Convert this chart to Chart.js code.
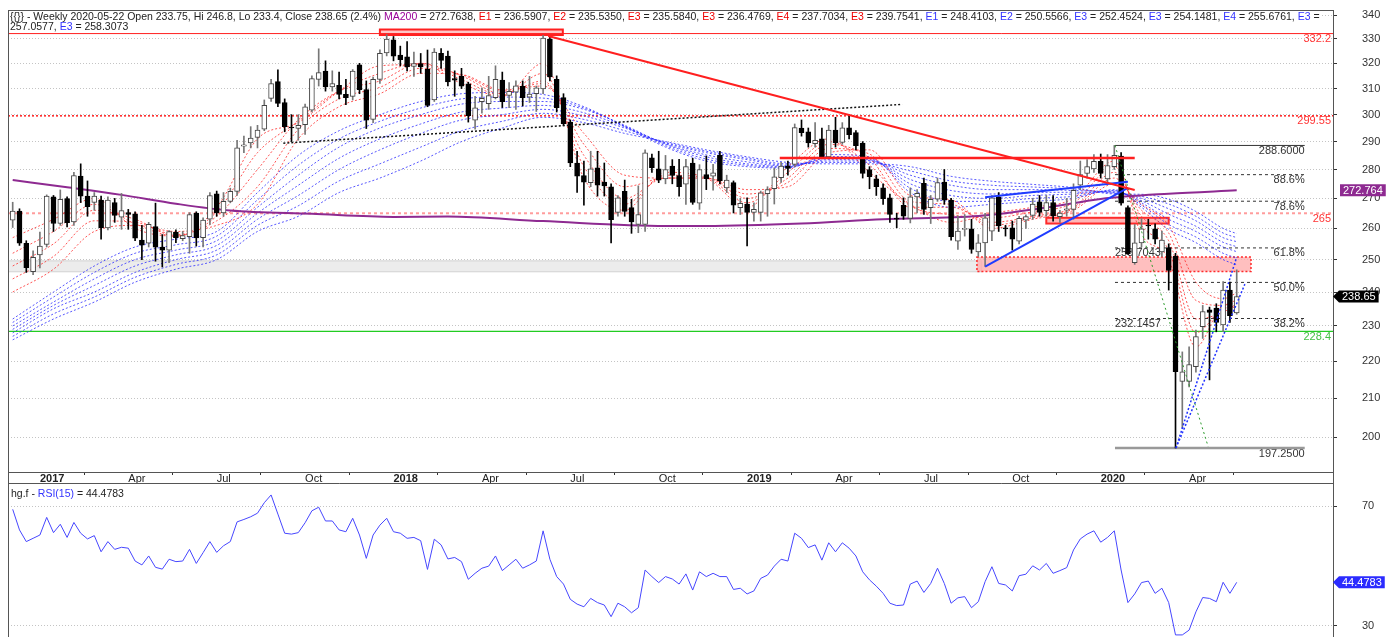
<!DOCTYPE html>
<html>
<head>
<meta charset="utf-8">
<title>Weekly chart</title>
<script src="https://cdn.jsdelivr.net/npm/chart.js@4.4.1/dist/chart.umd.min.js"></script>
<style>
  html, body { margin: 0; padding: 0; background: #fff; }
  #wrap { position: relative; width: 1386px; height: 637px; overflow: hidden; }
  canvas { position: absolute; left: 0; }
  #mainChart { top: 0; }
  #rsiChart { top: 483px; }
</style>
</head>
<body>
<div id="wrap">
  <canvas id="mainChart" width="1386" height="483"></canvas>
  <canvas id="rsiChart" width="1386" height="154"></canvas>
</div>
<script>
// weekly candles, index 0 = 2016-12-09 ... index 180 = 2020-05-22
const opens = [262.7,265.7,255.2,246.2,251.5,254.8,270.5,261.6,269.9,262.1,
  277.7,270.8,268.6,269.4,260.2,268.6,263.7,265.2,264.8,256.2,
  255.2,260.6,254,253,258.8,256.7,257.3,265.1,257,263,
  271.6,265.1,269,272.4,288.3,289.5,291.5,294.6,306.2,312.7,
  304.6,295.3,294.8,296.2,301.7,313.6,316.9,310.6,311.3,307.8,
  307,319.4,309.6,298.2,313.6,324.2,329.6,323.3,322.6,318.8,
  319.9,317.6,305.6,324,322.9,313.9,314.8,311.9,297.9,304.9,
  304.2,306.5,313.3,307.3,308.6,310.9,306.7,308,309.9,329.9,
  313.6,306.5,297.2,282.3,277.9,275.4,280.6,275.6,274,265.3,
  272.4,266.9,261.3,261.3,284.1,280.2,276.7,281.2,277.9,274.9,
  282.3,268.4,278.2,277.7,285,273.6,275.4,266.9,268.1,265.3,
  265.3,271.6,273.3,277.1,281.2,281.8,295,293.6,289.2,291,
  284.5,294.2,289.7,295.1,293.3,289.5,280,276.7,273.6,270.2,
  263.3,267.7,263.3,270.5,275.2,266.9,269.7,275.6,269.4,255.9,
  259.7,259.9,252.4,255.3,259.1,270.5,260.2,260.2,255.9,262.7,
  264.3,268.8,265.9,268.6,263.9,266,266.3,274.5,278.6,280.2,
  282.9,276.7,281,284.8,266.9,249,255.3,261,259.9,252.4,
  253.8,251,214.5,214.5,218.5,229.8,234.7,235.2,230.3,240.6,
  233.75];
const highs = [268.7,266.5,256,252.8,258.8,271.2,271,272.9,270.5,279,
  282,276,272,270.8,270.5,270,271.7,266.3,265.5,261,
  262,268.4,258,259.3,259.5,259,265.2,265.5,263.5,272,
  272.5,272,273.5,290.5,292,295.5,296,305.6,313.6,317.4,
  306,300,300,304,315,325.9,321,317,316.5,313.6,
  317.5,320,313,314.5,325.5,331.8,331,327,328.9,324.6,
  324,325.4,326,326,325,317,318,312.5,307,310.3,
  314.8,319,316.5,312.3,313,313,314.8,311,331.5,331,
  315,308,298,286.5,283,286.5,286.5,282.3,275,271,
  276.3,269.7,274.3,287,285.5,286.5,285,283.5,283.6,283.6,
  284,281.7,284.8,281.8,286.5,278,276,270,270.2,268.5,
  272.5,274,280.5,282.5,283,296.5,298,295,297,295,
  296,299,297,300,294,290,281,278,275,271.5,
  265,270.2,273.6,273,277,271,277,280,270,264.1,
  264.6,263,258,265,271,272,261,262.4,264,264.5,
  270,271,271,271,266,270,275,283,283.5,285.3,
  285.5,285.3,288.6,286,267.5,261.3,263.2,263,261.5,259.1,
  255,252,222.6,224,228.8,236,235.5,236.5,243.2,243,
  246.8];
const lows = [260.3,254.5,246,245.3,247.4,254,259,261,260.5,261,
  268.6,264,266,256.5,259.5,262,259.7,259.7,256,250,
  254,249.5,247.7,249,255.4,256,252,254.3,254,261.3,
  264,264,268.5,271,286,287.7,287.7,294,305,303,
  293.6,290,290.5,292.6,301,311,309,309,306,303.8,
  305.6,308,294.8,297,312,323,321,319,317,314.8,
  316,303,305,318,311,307,310,297.2,294.6,300.6,
  302,306,302.7,302.6,302,303.3,304.6,301.2,308,313,
  301,296,281,272,267.7,274,270.8,270.8,255.3,264,
  264,258.4,258.6,259,279,275.4,275,275,270.8,268,
  268,266.3,273,272.8,275,272,265.1,264.6,254.3,262.4,
  262.4,264,268.1,275.5,278,281,292,288,288,284,
  284,288,289,291,287,277,273.3,271,268,262,
  260.2,263,261.8,265.1,264.6,261.6,269,268,256.2,253.2,
  257.5,252,251,247.9,256,259,257.5,253,255,260,
  263,264,264,262.4,262,264,263,273,277,279,
  277,275,280,267.7,251.6,248.5,254,256.5,255,251,
  240.6,197.25,202.2,213,217,226.4,214.9,228.3,228.3,231,
  233.4];
const closes = [265.7,255.2,247.5,250.7,254.3,270.8,261.6,269.7,261.9,277.9,
  270.8,267.2,270.8,260.2,269.4,264.3,265.9,264.6,256.8,254.6,
  261.3,253.9,253,259,257,257.7,264.6,256.9,262.7,271,
  265.1,269,272.4,287.7,288.8,291.3,294.2,303.5,312,304.3,
  295.5,295,296,303,313.9,316.3,310.6,312,307.7,306.5,
  316.9,309.6,297.9,313.6,324,329.9,322.9,321.5,318.6,319.9,
  318.6,303.5,324.6,321.2,312.6,313.3,310.9,299.6,302.6,306.2,
  307.3,313.6,304.9,308.9,311.1,306.5,307.9,310.3,330.3,314.6,
  302.6,296.6,282.3,277.7,275.6,280.2,274.5,274.3,262.9,270.2,
  265.6,262.1,264.6,285.9,280.6,276.3,280,277.9,274,281,
  268.6,280,276.8,278.8,276.1,276.3,267.7,268.3,265.3,266.3,
  271.9,273,277.4,281.2,280.4,295.2,293.3,289.5,290.5,284.5,
  294.2,289.5,295.1,292.5,288.5,278.6,277.5,274,269.9,264.6,
  263,264,270.5,271.7,266.3,269.7,275.4,269.4,257.3,259.1,
  260,253.2,255.3,263.5,270.2,260.8,259.8,256.5,263.3,263.9,
  268.1,265.3,268.6,264.1,265.1,266.5,272.8,278.2,281,282.9,
  278.6,281.4,285,268.4,251.9,255.3,259.9,260.8,256.5,256.2,
  246.6,217.1,217.1,219.1,226.9,234.2,233.9,231,240.6,233,
  238.65];

// RSI(15), one value per week
const rsi = [68.9,62,58.1,59.2,60.3,66.2,61.1,63.9,59.5,64.5,
  60.9,59,60.1,54.7,58.1,55.5,56.2,55.9,51.6,50.3,
  53.3,49.5,48.9,52.2,51.4,51.6,55.5,50.8,54.4,58.1,
  54.5,56.7,58.1,64.7,65.5,66.4,67.6,71.1,73.7,67.3,
  60.9,60.6,61.1,64.4,68.4,69.6,65,65,62,61.4,
  65.9,60.3,52.5,60.3,63.6,65.9,61.4,60.9,59.2,59.5,
  58.4,48.8,58.9,57,52.3,52.8,51.4,45.5,47.5,49.2,
  49.9,53.3,48.4,50.3,52.2,49.2,50.3,51.6,61.7,52.2,
  46.4,43.9,38.8,37.2,36.3,39.1,37.7,36.9,33,37.5,
  36.3,34.3,36,48.6,46.4,44.4,46.4,45.6,43.9,47.3,
  41.9,48,46.4,47.5,46.4,46.4,42.1,42.5,40.6,41.6,
  45.8,46.9,49.9,52.2,51.6,60.9,59.2,56.1,57,51.9,
  57.7,54.7,57.7,55.9,53.3,48,45.3,43.2,40.8,37.5,
  36.7,36.9,43.9,44.9,41.1,44.1,49.2,44.1,37.5,39.3,
  39.7,36,38,44.7,49.7,44.1,43.6,41.6,46.7,47.2,
  50,48.6,50.8,47.5,48.4,49.4,55.3,59,60.6,61.7,
  57.9,59.5,61.7,48.6,37.7,40.6,44.4,44.9,40.8,42.5,
  37.7,26.9,26.9,28.5,34.6,39.4,39.1,38,44.5,40.8,
  44.48];

// moving-average ribbons, read at these week indices
const emaIdx = [0,6,12,18,24,30,36,42,48,54,60,66,72,78,84,90,96,102,108,114,120,126,132,138,144,150,156,162,166,170,174,178,180];
const red1 = [257,263,270,260,257.5,267,291,297,309,319,319.5,312,307,320,277,266,279,277,267,281,291,279,268,262,265,267,270,283,258,250,224,236,236.6];
const red2 = [252,259,268,261.5,257.5,265.5,286,297.5,309,316,320,313.5,307.5,316,281,268,278,277,268.5,279,290,281.5,267.5,264.5,263.5,265.5,268.5,281,261,253,228,235,235.5];
const red3 = [248,255,266,263,257.5,264,280,298,309,313,320,315,308,313,285,270,277,277,270,277,289,284,267,267,262,264,267,279,264,256,232,234,236.5];
const red4 = [244,251,262.5,262,258,262.5,274,294.5,306,310.5,318,315.5,309,312,289,274,277,277,271.5,275.5,287.5,285.5,269,268,261,263.5,266.5,277,266,258.5,237.5,236,237.7];
const red5 = [240,247,259,261,259,261,268,291,303,308,316,315.5,309.5,311,293,278,277,277,273,274,286,287,271,269.5,260,263,266,275,268,261,243,238,239.75];
const blue1 = [232,240,248,254,256.5,259,272,285,294,300,305,308,308.5,307.7,303,295.5,288,283,281,280.5,285.3,284.5,272,267,268,269,270,273,267,259.7,255.4,250,248.4];
const blue2 = [231,238.5,246,252,254.7,257.5,269.5,281.5,291,297.5,302.5,306,306.7,306.3,302.5,295.7,288.5,283.7,281.5,280.7,284.6,284,273.5,269,269,270,270.7,272.7,267.7,261.3,257.2,252,250.5];
const blue3 = [230,237,244,250,253,256,267,278,288,295,300,304,305,305,302,296,289,284.5,282,281,284,283.5,275,271,270,271,271.5,272.5,268.5,263,259,254,252.5];
const blue4 = [229,236,242,248,251.5,254.5,265,274.5,284,291,296.5,301,302.5,303.5,300.7,295.5,289.2,285.2,282.7,281.2,283.5,283.2,276.5,272.7,271.5,272,272.1,272.2,269.2,264.7,260.7,255.5,254.1];
const blue5 = [228,235,240,246,250,253,263,271,280,287,293,298,300,302,299.5,295,289.5,286,283.5,281.5,283,283,278,274.5,273,273,272.7,272,270,266.5,262.5,257,255.7];
const blue6 = [227,233.5,238.5,244.5,248.5,251.5,261,267.5,276,282,288,294,297.5,300.5,298.2,294,289.7,286.5,284,282,282.5,282.5,279.5,276,274.5,273.9,273.2,271.7,270.7,268.1,264,258.5,257];
const blue7 = [226,232,237,243,247,250,259,264,272,277,283,290,295,299,297,293,290,287,284.5,282.5,282,282,281,277.6,275.9,274.8,273.7,271.5,271.4,269.7,265.6,260,258.3];

// MA200
const maIdx  = [0,8,16,24,32,44,56,64,78,96,102,116,128,142,152,160,170,180];
const maVals = [276.3,273.8,271.2,268.2,265.9,264.8,263.8,263.9,262.4,260.8,260.8,261.6,263,264.1,266.9,269.8,271.6,272.76];

// drawn studies: [week index, price] end points
const trendRed     = [[78.75, 331.2], [165, 272.9]];
const trendBlack   = [[39.8, 289.4], [130.8, 303.9]];
const trendBlueUp  = [[143, 270.4], [164, 275.7]];
const trendBlueLow = [[143, 247.8], [164, 273.6]];
const fibDiag      = [[162.1, 288.6], [175.8, 197.6]];
const fanA         = [[171.07, 197.25], [180, 250.8]];
const fanB         = [[171.07, 197.25], [181.2, 242.4]];
const resist284    = [[112.8, 284.1], [165, 284.1]];

// zones: [from week, to week, low, high]
const grayBand = [-0.69, 142.5, 246.2, 249.6];
const pinkZone = [141.8, 182.1, 246.3, 250.8];
const redZone  = [152, 170, 261.6, 263.5];
const topZone  = [54, 80.9, 331.6, 333.9];

// horizontal levels across the chart
const refLevels = [332.2, 299.55, 265, 228.4];
const refLabels = ['332.2', '299.55', '265', '228.4'];

// fibonacci retracement
const fibRange  = [162.1, 190];
const fibLevels = [288.6, 278.19, 269.05, 253.70, 242.93, 232.15, 197.25];
const fibRight  = ['288.6000', '88.6%', '78.6%', '61.8%', '50.0%', '38.2%', '197.2500'];
const fibLeft   = ['', '', '', '253.7043', '', '232.1457', ''];

// axes
const yTicks = [200,210,220,230,240,250,260,270,280,290,300,310,320,330,340];
const rsiTicks = [30, 70];
const xTickIdx = [4,17,30,43,56,69,82,95,108,121,134,147,160,173];
const xTickLabels = ['2017','Apr','Jul','Oct','2018','Apr','Jul','Oct','2019','Apr','Jul','Oct','2020','Apr'];

// header readout
const redNames = ['E1','E2','E3','E3','E4','E3'];
const redVals = ['236.5907','235.5350','235.5840','236.4769','237.7034','239.7541'];
const blueNames = ['E1','E2','E3','E3','E4','E3','E3'];
const blueVals = ['248.4103','250.5566','252.4524','254.1481','255.6761','257.0577','258.3073'];
const maLast = 272.764;
const rsiLast = 44.4783;

const FONT = '11px "Liberation Sans", Arial, sans-serif';
const HEAD_FONT = '10.5px "Liberation Sans", Arial, sans-serif';
Chart.defaults.font.family = '"Liberation Sans", Arial, sans-serif';
Chart.defaults.font.size = 11;
Chart.defaults.color = '#333';

const xMin = -0.69, xMax = 194.16;
const idx = closes.map((_, i) => i);
const up = idx.map(i => closes[i] >= opens[i]);

const pts = (xs, ys) => xs.map((x, k) => ({x, y: ys[k]}));
const seg = p => p.map(([x, y]) => ({x, y}));

function lineDs(data, color, width, dash, order, smooth) {
  return { type: 'line', data, borderColor: color, borderWidth: width, borderDash: dash || [],
    pointRadius: 0, pointHoverRadius: 0, fill: false, order, tension: 0,
    cubicInterpolationMode: smooth ? 'monotone' : 'default' };
}
const flat = (v, a, b) => [{x: a, y: v}, {x: b, y: v}];

const RED = '#ff1f1f';
const emaRed = 'rgba(255,55,55,0.85)';
const emaBlue = 'rgba(45,45,255,0.8)';

const datasets = [
  lineDs(seg(trendRed), RED, 2, [], 0),
  lineDs(seg(resist284), RED, 2.5, [], 0),
  lineDs(seg(trendBlack), '#111', 1.5, [2, 2], 0),
  lineDs(seg(trendBlueUp), '#1f3cff', 2, [], 0),
  lineDs(seg(trendBlueLow), '#1f3cff', 2, [], 0),
  lineDs(seg(fibDiag), '#2a9a2a', 1, [2, 3], 0),
  lineDs(seg(fanA), '#2233ff', 1.5, [2, 2], 0),
  lineDs(seg(fanB), '#2233ff', 1.5, [2, 2], 0),
  { type: 'bar', data: idx.map(i => ({x: i, y: [opens[i], closes[i]]})),
    backgroundColor: idx.map(i => up[i] ? '#fff' : '#000'),
    borderColor: idx.map(i => up[i] ? '#444' : '#000'),
    borderWidth: 1, borderSkipped: false, barThickness: 5, minBarLength: 1, grouped: false, order: 1 },
  { type: 'bar', data: idx.map(i => ({x: i, y: [lows[i], highs[i]]})),
    backgroundColor: idx.map(i => up[i] ? '#777' : '#000'),
    borderWidth: 0, barThickness: 1, grouped: false, order: 2 },
  lineDs(pts(maIdx, maVals), '#8e2a91', 2, [], 3, true),
  ...[red1, red2, red3, red4, red5].map(a => lineDs(pts(emaIdx, a), emaRed, 1, [2, 2], 4, true)),
  ...[blue1, blue2, blue3, blue4, blue5, blue6, blue7].map(a => lineDs(pts(emaIdx, a), emaBlue, 1, [2, 2], 5, true)),
  lineDs(flat(refLevels[0], xMin, xMax), RED, 1, [], 6),
  lineDs(flat(refLevels[1], xMin, xMax), RED, 1.5, [2, 2], 6),
  lineDs(flat(refLevels[2], xMin, xMax), '#ff9c9c', 2, [3, 3], 6),
  lineDs(flat(refLevels[3], xMin, xMax), '#22cc22', 1.3, [], 6),
  ...fibLevels.map((v, k) => {
    if (k === 0) return lineDs(flat(v, fibRange[0], fibRange[1]), '#333', 1, [], 6);
    if (k === fibLevels.length - 1) return lineDs(flat(v, fibRange[0], fibRange[1]), '#999', 2.5, [], 6);
    return lineDs(flat(v, fibRange[0], fibRange[1]), '#333', 1, [3, 3], 6);
  })
];

function drawRich(ctx, segs, x0, y0, maxX, lineH, font) {
  ctx.font = font; ctx.textBaseline = 'middle'; ctx.textAlign = 'left';
  const toks = [];
  segs.forEach(([t, c]) => t.split(/(?<= )/).forEach(w => toks.push([w, c])));
  const rows = [[]];
  let x = x0;
  toks.forEach(([w, c]) => {
    const wd = ctx.measureText(w.trimEnd()).width;
    if (x + wd > maxX && x > x0) { rows.push([]); x = x0; }
    rows[rows.length - 1].push([w, c, x]);
    x += ctx.measureText(w).width;
  });
  rows.forEach((r, k) => {
    const yy = y0 + k * lineH;
    const last = r[r.length - 1];
    const end = last[2] + ctx.measureText(last[0].trimEnd()).width;
    ctx.fillStyle = '#fff';
    ctx.fillRect(x0 - 1, yy - lineH / 2, end - x0 + 3, lineH);
    r.forEach(([w, c, xx]) => { ctx.fillStyle = c; ctx.fillText(w, xx, yy); });
  });
}

function tag(ctx, text, xL, yC, bg, arrow) {
  ctx.font = FONT; ctx.textBaseline = 'middle'; ctx.textAlign = 'left';
  const w = ctx.measureText(text).width, h = 12;
  ctx.fillStyle = bg;
  ctx.beginPath();
  if (arrow) {
    ctx.moveTo(xL, yC); ctx.lineTo(xL + 6, yC - h / 2); ctx.lineTo(xL + 12 + w, yC - h / 2);
    ctx.lineTo(xL + 12 + w, yC + h / 2); ctx.lineTo(xL + 6, yC + h / 2); ctx.closePath();
  } else {
    ctx.rect(xL, yC - h / 2, w + 6, h);
  }
  ctx.fill();
  ctx.fillStyle = '#fff';
  ctx.fillText(text, xL + (arrow ? 9 : 3), yC + 0.5);
}

const mainDecor = {
  id: 'mainDecor',
  beforeDatasetsDraw(chart) {
    const {ctx, chartArea: a, scales: {x, y}} = chart;
    ctx.save();
    ctx.beginPath(); ctx.rect(a.left, a.top, a.right - a.left, a.bottom - a.top); ctx.clip();
    const box = (b, fill, stroke, lw, dash) => {
      const x0 = x.getPixelForValue(b[0]), x1 = x.getPixelForValue(b[1]);
      const y0 = y.getPixelForValue(b[3]), y1 = y.getPixelForValue(b[2]);
      ctx.fillStyle = fill; ctx.fillRect(x0, y0, x1 - x0, y1 - y0);
      if (stroke) {
        ctx.strokeStyle = stroke; ctx.lineWidth = lw; ctx.setLineDash(dash || []);
        ctx.strokeRect(x0, y0, x1 - x0, y1 - y0); ctx.setLineDash([]);
      }
    };
    box(grayBand, '#ececec', '#d2d2d2', 1);
    box(pinkZone, 'rgba(255,175,175,0.8)', '#ff2a2a', 1.5, [2, 2]);
    box(redZone, 'rgba(255,170,170,0.85)', '#ff2a2a', 2);
    box(topZone, 'rgba(255,160,160,0.6)', RED, 2);
    ctx.font = FONT; ctx.textBaseline = 'middle'; ctx.fillStyle = '#333';
    const fx0 = x.getPixelForValue(fibRange[0]), fx1 = x.getPixelForValue(fibRange[1]);
    fibLevels.forEach((v, k) => {
      const py = y.getPixelForValue(v) + 5.5;
      ctx.textAlign = 'right'; ctx.fillText(fibRight[k], fx1, py);
      if (fibLeft[k]) { ctx.textAlign = 'left'; ctx.fillText(fibLeft[k], fx0, py); }
    });
    ctx.restore();
  },
  afterDatasetsDraw(chart) {
    const {ctx, chartArea: a, scales: {y}} = chart;
    ctx.save();
    ctx.font = FONT; ctx.textBaseline = 'middle'; ctx.textAlign = 'right';
    const cols = ['#ff3333', '#ff3333', '#ff3333', '#44c044'];
    refLevels.forEach((v, k) => {
      ctx.fillStyle = cols[k];
      ctx.fillText(refLabels[k], a.right - 2, y.getPixelForValue(v) + 5.5);
    });
    ctx.restore();
  },
  afterDraw(chart) {
    const {ctx, chartArea: a, scales: {y}} = chart;
    ctx.save();
    ctx.strokeStyle = '#555'; ctx.lineWidth = 1;
    ctx.strokeRect(a.left + 0.5, a.top + 0.5, a.right - a.left, a.bottom - a.top);
    ctx.beginPath();
    ctx.moveTo(a.left + 0.5, a.bottom); ctx.lineTo(a.left + 0.5, chart.height);
    ctx.moveTo(a.right + 0.5, a.bottom); ctx.lineTo(a.right + 0.5, chart.height);
    ctx.stroke();
    const dark = '#222', red = '#ee0000', blue = '#3333ff';
    const segs = [['{{}} - Weekly 2020-05-22 Open ' + opens[180] + ', Hi ' + highs[180] + ', Lo ' + lows[180] +
      ', Close ' + closes[180] + ' (2.4%) ', dark], ['MA200', '#990099'], [' = 272.7638, ', dark]];
    redNames.forEach((n, k) => { segs.push([n, red]); segs.push([' = ' + redVals[k] + ', ', dark]); });
    blueNames.forEach((n, k) => {
      segs.push([n, blue]);
      segs.push([' = ' + blueVals[k] + (k < blueNames.length - 1 ? ', ' : ''), dark]);
    });
    drawRich(ctx, segs, 10, 17, 1326, 10.5, HEAD_FONT);
    tag(ctx, String(maLast), 1340, y.getPixelForValue(maLast), '#8e2a91', false);
    tag(ctx, String(closes[180]), 1333, y.getPixelForValue(closes[180]), '#000', true);
    ctx.restore();
  }
};

new Chart(document.getElementById('mainChart'), {
  type: 'bar',
  data: { datasets },
  options: {
    responsive: false, animation: false, devicePixelRatio: 1,
    layout: { padding: { left: 8, top: 10, right: 0, bottom: 0 } },
    plugins: { legend: { display: false }, tooltip: { enabled: false } },
    scales: {
      x: {
        type: 'linear', min: xMin, max: xMax, offset: false, position: 'bottom',
        afterBuildTicks: s => { s.ticks = xTickIdx.map(v => ({value: v})); },
        afterFit: s => { s.height = 11; s.paddingLeft = 0; s.paddingRight = 0; },
        grid: { drawOnChartArea: false, tickLength: 3, tickColor: '#333' },
        border: { display: false },
        ticks: {
          autoSkip: false, maxRotation: 0, minRotation: 0, align: 'start', padding: -2, color: '#222',
          font: c => ({ size: 11, lineHeight: 1, weight: /^\d{4}$/.test(xTickLabels[c.index] || '') ? 'bold' : 'normal' }),
          callback: v => { const k = xTickIdx.indexOf(v); return k >= 0 ? xTickLabels[k] : ''; }
        }
      },
      y: {
        type: 'logarithmic', position: 'right', min: 191.39, max: 342.2,
        afterBuildTicks: s => { s.ticks = yTicks.map(v => ({value: v})); },
        afterFit: s => { s.width = 53; s.paddingTop = 0; s.paddingBottom = 0; },
        grid: { color: '#c4c4c4', tickLength: 4, tickColor: '#333', tickBorderDash: [] },
        border: { display: false, dash: [1, 2] },
        ticks: { autoSkip: false, padding: 25, color: '#333', callback: v => String(v) }
      }
    }
  },
  plugins: [mainDecor]
});

const rsiDecor = {
  id: 'rsiDecor',
  afterDraw(chart) {
    const {ctx, chartArea: a, scales: {y}} = chart;
    ctx.save();
    ctx.strokeStyle = '#555'; ctx.lineWidth = 1;
    ctx.beginPath();
    ctx.moveTo(a.left + 0.5, 0); ctx.lineTo(a.left + 0.5, chart.height);
    ctx.moveTo(a.right + 0.5, 0); ctx.lineTo(a.right + 0.5, chart.height);
    ctx.moveTo(a.left, 0.5); ctx.lineTo(a.right, 0.5);
    ctx.stroke();
    drawRich(ctx, [['hg.f - ', '#222'], ['RSI(15)', '#3333ff'], [' = ' + rsiLast, '#222']], 11, 11, 1300, 11, HEAD_FONT);
    tag(ctx, String(rsiLast), 1333, y.getPixelForValue(rsiLast), '#2b2bff', true);
    ctx.restore();
  }
};

new Chart(document.getElementById('rsiChart'), {
  type: 'line',
  data: { datasets: [{ data: pts(idx, rsi), borderColor: '#4646ff', borderWidth: 1, pointRadius: 0, fill: false, tension: 0 }] },
  options: {
    responsive: false, animation: false, devicePixelRatio: 1,
    layout: { padding: { left: 8, top: 1, right: 0, bottom: 0 } },
    plugins: { legend: { display: false }, tooltip: { enabled: false } },
    scales: {
      x: { type: 'linear', min: xMin, max: xMax, display: false },
      y: {
        type: 'linear', position: 'right', min: 26.2, max: 77.36,
        afterBuildTicks: s => { s.ticks = rsiTicks.map(v => ({value: v})); },
        afterFit: s => { s.width = 53; s.paddingTop = 0; s.paddingBottom = 0; },
        grid: { color: '#c4c4c4', tickLength: 4, tickColor: '#333', tickBorderDash: [] },
        border: { display: false, dash: [1, 2] },
        ticks: { autoSkip: false, padding: 25, color: '#333' }
      }
    }
  },
  plugins: [rsiDecor]
});
</script>
</body>
</html>
